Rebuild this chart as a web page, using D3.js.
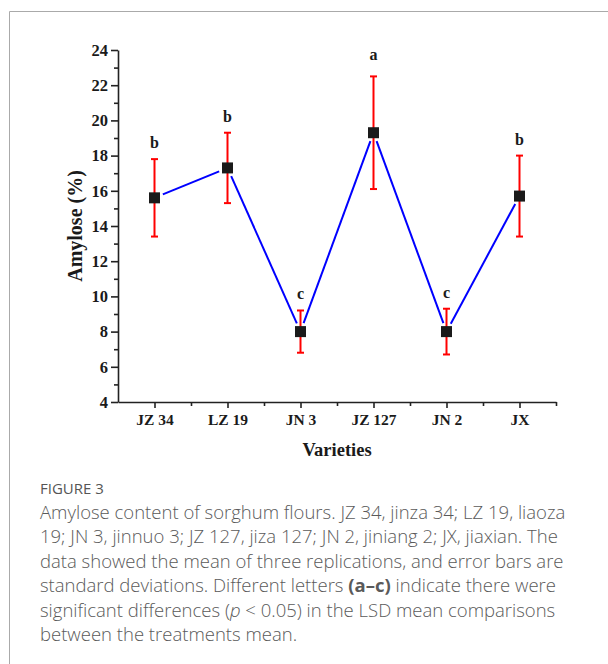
<!DOCTYPE html>
<html><head><meta charset="utf-8">
<script src="https://cdn.jsdelivr.net/npm/d3@7"></script>
<style>
body{margin:0;background:#fff;}
svg{display:block;}
</style></head>
<body>
<svg id="c" width="608" height="664"></svg>
<script>
const categories = ["JZ 34", "LZ 19", "JN 3", "JZ 127", "JN 2", "JX"];
const means = [15.6, 17.3, 8.0, 19.3, 8.0, 15.7];
const sds = [2.2, 2.0, 1.2, 3.2, 1.3, 2.3];
const letters = ["b", "b", "c", "a", "c", "b"];
const yTicks = [4, 6, 8, 10, 12, 14, 16, 18, 20, 22, 24];
const yMinorTicks = [5, 7, 9, 11, 13, 15, 17, 19, 21, 23];

const svg = d3.select("#c");
const x = d3.scaleLinear().domain([0.5, 6.5]).range([118, 556]);
const y = d3.scaleLinear().domain([4, 24]).range([402, 50]);
const serif = "'Liberation Serif','Times New Roman',serif";

// frame
svg.append("path").attr("d", "M9.5,664 V11.5 H608").attr("fill", "none").attr("stroke", "#aaa").attr("stroke-width", 1);

// Y axis
const yAxis = d3.axisLeft(y).tickValues(yTicks).tickSize(7).tickPadding(3).tickSizeOuter(0).tickFormat(d3.format("d"));
const gy = svg.append("g").attr("transform", "translate(118,0)").call(yAxis);
gy.selectAll("line,path").attr("stroke", "#222").attr("stroke-width", 1.6);
gy.selectAll("text").attr("font-family", serif).attr("font-weight", "bold").attr("font-size", 16.5).attr("fill", "#1a1a1a");
const yMinor = d3.axisLeft(y).tickValues(yMinorTicks).tickSize(4).tickFormat("").tickSizeOuter(0);
const gym = svg.append("g").attr("transform", "translate(118,0)").call(yMinor);
gym.select("path").remove();
gym.selectAll("line").attr("stroke", "#222").attr("stroke-width", 1.6);

// X axis
const xAxis = d3.axisBottom(x).tickValues(d3.range(1, categories.length + 1)).tickSize(6).tickPadding(6).tickSizeOuter(0).tickFormat(d => categories[d - 1]);
const gx = svg.append("g").attr("transform", "translate(0,402)").call(xAxis);
gx.selectAll("line,path").attr("stroke", "#222").attr("stroke-width", 1.6);
gx.selectAll("text").attr("font-family", serif).attr("font-weight", "bold").attr("font-size", 15.5).attr("fill", "#1a1a1a");
const xMinor = d3.axisBottom(x).tickValues(d3.range(1.5, categories.length + 1, 1)).tickSize(4).tickFormat("").tickSizeOuter(0);
const gxm = svg.append("g").attr("transform", "translate(0,402)").call(xMinor);
gxm.select("path").remove();
gxm.selectAll("line").attr("stroke", "#222").attr("stroke-width", 1.6);

// axis titles
svg.append("text").attr("x", 337).attr("y", 456).attr("text-anchor", "middle")
  .attr("font-family", serif).attr("font-weight", "bold").attr("font-size", 18.5).attr("fill", "#1a1a1a").text("Varieties");
svg.append("text").attr("transform", "translate(82,226) rotate(-90)").attr("text-anchor", "middle")
  .attr("font-family", serif).attr("font-weight", "bold").attr("font-size", 20).attr("fill", "#1a1a1a").text("Amylose (%)");

// data points
const pts = means.map((m, i) => ({ i, cx: x(i + 1), cy: y(m), m, sd: sds[i], l: letters[i] }));

// connecting line with gaps at markers
const gap = 9;
for (let k = 0; k < pts.length - 1; k++) {
  const a = pts[k], b = pts[k + 1];
  const dx = b.cx - a.cx, dy = b.cy - a.cy, len = Math.hypot(dx, dy);
  const ux = dx / len, uy = dy / len;
  svg.append("line")
    .attr("x1", a.cx + ux * gap).attr("y1", a.cy + uy * gap)
    .attr("x2", b.cx - ux * gap).attr("y2", b.cy - uy * gap)
    .attr("stroke", "#0000ff").attr("stroke-width", 2);
}

// error bars
const eb = svg.append("g").attr("stroke", "#ff0000").attr("stroke-width", 2);
pts.forEach(p => {
  const t = y(p.m + p.sd), bo = y(p.m - p.sd);
  eb.append("line").attr("x1", p.cx).attr("x2", p.cx).attr("y1", t).attr("y2", bo);
  eb.append("line").attr("x1", p.cx - 3.5).attr("x2", p.cx + 3.5).attr("y1", t).attr("y2", t);
  eb.append("line").attr("x1", p.cx - 3.5).attr("x2", p.cx + 3.5).attr("y1", bo).attr("y2", bo);
});

// markers
svg.append("g").selectAll("rect").data(pts).join("rect")
  .attr("x", d => d.cx - 5.5).attr("y", d => d.cy - 5.5).attr("width", 11).attr("height", 11)
  .attr("fill", "#1a1a1a");

// letters
svg.append("g").selectAll("text").data(pts).join("text")
  .attr("x", d => d.cx).attr("y", d => y(d.m + d.sd) - (d.l === "a" ? 16 : 11))
  .attr("text-anchor", "middle").attr("font-family", serif).attr("font-weight", "bold")
  .attr("font-size", 16).attr("fill", "#1a1a1a").text(d => d.l);

// caption
const sans = "'Open Sans','Noto Sans',sans-serif";
svg.append("text").attr("x", 40).attr("y", 494).attr("font-family", sans).attr("font-size", 15)
  .attr("fill", "#555").text("FIGURE 3");
const capLines = [
  [["Amylose content of sorghum flours. JZ 34, jinza 34; LZ 19, liaoza", ""]],
  [["19; JN 3, jinnuo 3; JZ 127, jiza 127; JN 2, jiniang 2; JX, jiaxian. The", ""]],
  [["data showed the mean of three replications, and error bars are", ""]],
  [["standard deviations. Different letters ", ""], ["(a\u2013c)", "b"], [" indicate there were", ""]],
  [["significant differences (", ""], ["p", "i"], [" < 0.05) in the LSD mean comparisons", ""]],
  [["between the treatments mean.", ""]]
];
capLines.forEach((ln, j) => {
  const t = svg.append("text").attr("x", 40).attr("y", 519 + j * 24.4)
    .attr("font-family", sans).attr("font-size", 18.5).attr("fill", "#5a5a5a").attr("font-weight", 300);
  ln.forEach(([s, st]) => {
    const ts = t.append("tspan").text(s);
    if (st === "b") ts.attr("font-weight", "bold");
    if (st === "i") ts.attr("font-style", "italic");
  });
});
</script>
</body></html>
